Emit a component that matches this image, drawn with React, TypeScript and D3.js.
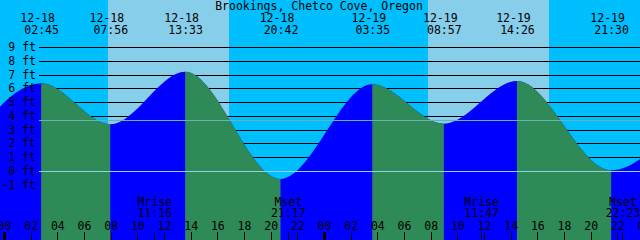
import React from 'react';
import * as d3 from 'd3';

const W = 640;
const H = 240;

const title = 'Brookings, Chetco Cove, Oregon';

// Tide extremes (day offset from 12-18, date label, time, height in ft)
const tideDays = [-1, 0, 0, 0, 0, 1, 1, 1, 1, 2];
const tideDates = ['12-17', '12-18', '12-18', '12-18', '12-18', '12-19', '12-19', '12-19', '12-19', '12-20'];
const tideTimes = ['19:50', '02:45', '07:56', '13:33', '20:42', '03:35', '08:57', '14:26', '21:30', '04:25'];
const tideHeights = [-0.3, 6.4, 3.43, 7.24, -0.54, 6.33, 3.47, 6.57, 0.09, 6.3];

// Sun
const sunDays = [0, 1];
const sunrises = ['07:46', '07:46'];
const sunsets = ['16:50', '16:50'];

// Moon
const moonDays = [0, 0, 1, 1];
const moonNames = ['Mrise', 'Mset', 'Mrise', 'Mset'];
const moonTimes = ['11:16', '21:17', '11:47', '22:23'];

// Axes
const ftTicks = [-1, 0, 1, 2, 3, 4, 5, 6, 7, 8, 9];
const hourTicks = [0, 2, 4, 6, 8, 10, 12, 14, 16, 18, 20, 22, 24, 26, 28, 30, 32, 34, 36, 38, 40, 42, 44, 46, 48];
const meanLevel = 3.7;

const toHours = (day: number, t: string) => {
  const [h, m] = t.split(':').map(Number);
  return day * 24 + h + m / 60;
};

const FONT = "'DejaVu Sans Mono', monospace";

export default function App() {
  const x = d3.scaleLinear().domain([0, 48]).range([4.5, 644.5]);
  const y = d3.scaleLinear().domain([0, 9]).range([171.5, 47.5]);

  const pts = tideTimes.map((t, i) => ({
    t: toHours(tideDays[i], t),
    h: tideHeights[i],
    date: tideDates[i],
    time: t,
  }));

  const area = d3
    .area<{ t: number; h: number }>()
    .x((d) => x(d.t))
    .y0(H)
    .y1((d) => y(d.h))
    .curve(d3.curveMonotoneX);
  const areaPath = area(pts) || '';

  const falling: { x0: number; x1: number }[] = [];
  for (let i = 0; i < pts.length - 1; i++) {
    if (pts[i + 1].h < pts[i].h) falling.push({ x0: x(pts[i].t), x1: x(pts[i + 1].t) });
  }

  const visible = pts.filter((p) => p.t >= 0 && p.t <= 48);
  const lineX0 = 39;

  return (
    <svg
      width={W}
      height={H}
      style={{ position: 'absolute', left: 0, top: 0, display: 'block' }}
      fontFamily={FONT}
      fontSize={11.5}
    >
      <defs>
        <clipPath id="fall">
          {falling.map((f, i) => (
            <rect key={i} x={f.x0} y={0} width={f.x1 - f.x0} height={H} />
          ))}
        </clipPath>
      </defs>
      <rect x={0} y={0} width={W} height={H} fill="#00BFFF" />
      {sunDays.map((d, i) => {
        const a = x(toHours(d, sunrises[i]));
        const b = x(toHours(d, sunsets[i]));
        return <rect key={i} x={a} y={0} width={b - a} height={H} fill="#87CEEB" shapeRendering="crispEdges" />;
      })}
      {ftTicks
        .filter((f) => f !== 0)
        .map((f) => (
          <line key={f} x1={lineX0} x2={W} y1={y(f)} y2={y(f)} stroke="#000" strokeWidth={1} shapeRendering="crispEdges" />
        ))}
      <path d={areaPath} fill="#0000FF" />
      <path d={areaPath} fill="#2E8B57" clipPath="url(#fall)" />
      <line x1={lineX0} x2={W} y1={y(0)} y2={y(0)} stroke="#90D0E8" strokeWidth={1} shapeRendering="crispEdges" />
      <line x1={lineX0} x2={W} y1={y(meanLevel)} y2={y(meanLevel)} stroke="#64B4B4" strokeWidth={1} shapeRendering="crispEdges" />

      {/* y labels */}
      {ftTicks.map((f) => (
        <text key={f} x={36} y={y(f) + 3.5} textAnchor="end" fill="#000">
          {`${f} ft`}
        </text>
      ))}

      {/* title */}
      <text x={319} y={10} textAnchor="middle" fill="#000">
        {title}
      </text>

      {/* tide labels */}
      {visible.map((p, i) => (
        <g key={i}>
          <text x={x(p.t) - 3.5} y={22} textAnchor="middle" fill="#000">
            {p.date}
          </text>
          <text x={x(p.t) + 0.5} y={34} textAnchor="middle" fill="#000">
            {p.time}
          </text>
        </g>
      ))}

      {/* moon labels */}
      {moonNames.map((n, i) => {
        const mx = x(toHours(moonDays[i], moonTimes[i]));
        return (
          <g key={i}>
            <text x={mx} y={206} textAnchor="middle" fill="#000">
              {n}
            </text>
            <text x={mx} y={217} textAnchor="middle" fill="#000">
              {moonTimes[i]}
            </text>
            <line x1={mx} x2={mx} y1={232} y2={H} stroke="#000" strokeWidth={1} shapeRendering="crispEdges" />
          </g>
        );
      })}

      {/* hour ticks */}
      {hourTicks.map((h) => (
        <g key={h}>
          <text x={x(h)} y={230} textAnchor="middle" fill="#000">
            {d3.format('02d')(h % 24)}
          </text>
          <line
            x1={x(h)}
            x2={x(h)}
            y1={232}
            y2={H}
            stroke="#000"
            strokeWidth={h % 24 === 0 ? 3 : 1}
            shapeRendering="crispEdges"
          />
        </g>
      ))}
    </svg>
  );
}
